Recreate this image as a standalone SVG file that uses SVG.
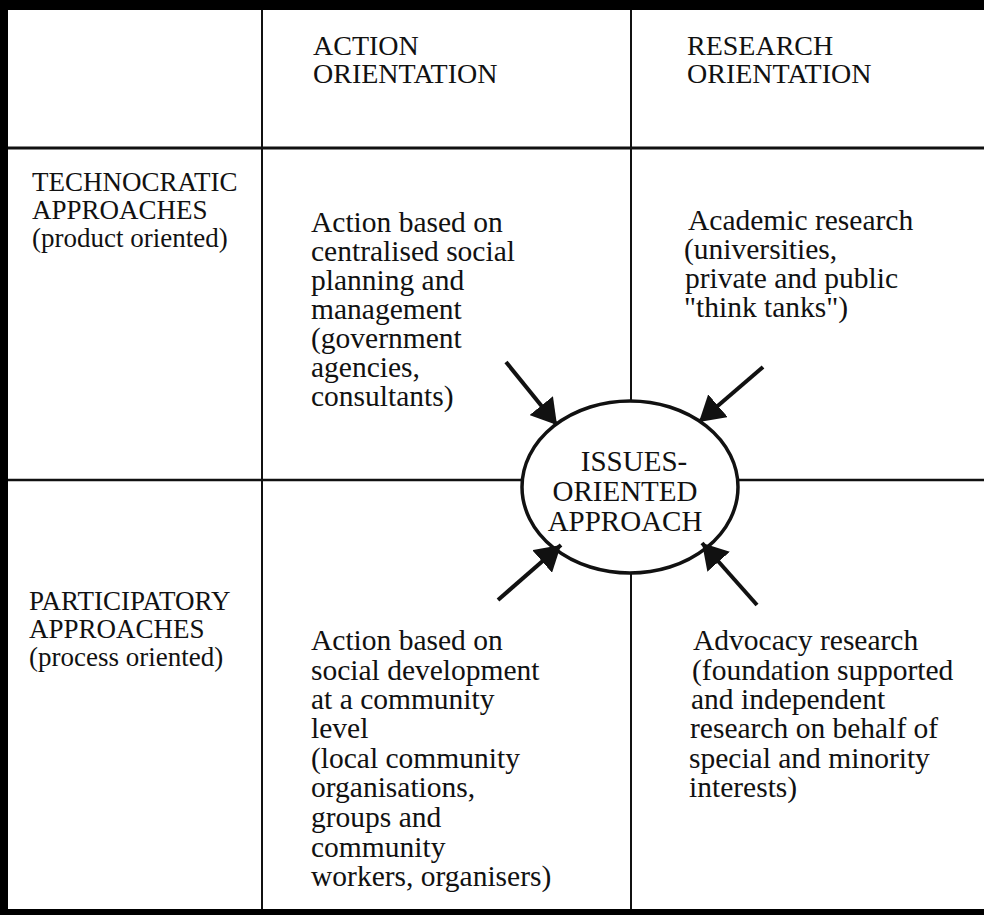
<svg xmlns="http://www.w3.org/2000/svg" width="984" height="915" viewBox="0 0 984 915">
  <defs>
    <style>
      .t { font-family: "Liberation Serif", "Times New Roman", serif; font-size: 29.5px; fill: #111; }
      .hd { font-size: 28px; }
      .rl { font-size: 27px; }
      .ce { font-size: 29px; }
      .grid { stroke: #111; fill: none; }
      .arrow { stroke: #111; stroke-width: 4; fill: none; marker-end: url(#head); }
    </style>
    <marker id="head" markerUnits="userSpaceOnUse" markerWidth="25" markerHeight="30" viewBox="0 0 25 30" refX="25" refY="15" orient="auto">
      <path d="M0,0 L25,15 L0,30 Z" fill="#111"/>
    </marker>
  </defs>

  <rect x="0" y="0" width="984" height="915" fill="#fff"/>

  <!-- frame and table rules -->
  <g id="frame">
    <rect x="0" y="0" width="984" height="10" fill="#000"/>
    <rect x="0" y="0" width="8" height="915" fill="#000"/>
    <rect x="0" y="909" width="984" height="6" fill="#000"/>
    <line class="grid" x1="262" y1="10" x2="262" y2="909" stroke-width="2"/>
    <line class="grid" x1="631" y1="10" x2="631" y2="909" stroke-width="2"/>
    <line class="grid" x1="8" y1="148" x2="984" y2="148" stroke-width="3"/>
    <line class="grid" x1="8" y1="480" x2="984" y2="480" stroke-width="2.5"/>
  </g>

  <!-- column headings -->
  <g id="head-action">
    <text class="t hd" x="313" y="55">ACTION</text>
    <text class="t hd" x="313" y="83">ORIENTATION</text>
  </g>
  <g id="head-research">
    <text class="t hd" x="687" y="55">RESEARCH</text>
    <text class="t hd" x="687" y="83">ORIENTATION</text>
  </g>

  <!-- row headings -->
  <g id="row-technocratic">
    <text class="t rl" x="32" y="191">TECHNOCRATIC</text>
    <text class="t rl" x="32" y="219">APPROACHES</text>
    <text class="t rl" x="32" y="247">(product oriented)</text>
  </g>
  <g id="row-participatory">
    <text class="t rl" x="29" y="610">PARTICIPATORY</text>
    <text class="t rl" x="29" y="638">APPROACHES</text>
    <text class="t rl" x="29" y="666">(process oriented)</text>
  </g>

  <!-- quadrant cells -->
  <g id="cell-technocratic-action">
    <text class="t" x="311" y="232">Action based on</text>
    <text class="t" x="311" y="261">centralised social</text>
    <text class="t" x="311" y="290">planning and</text>
    <text class="t" x="311" y="319">management</text>
    <text class="t" x="311" y="348">(government</text>
    <text class="t" x="311" y="377">agencies,</text>
    <text class="t" x="311" y="406">consultants)</text>
  </g>
  <g id="cell-technocratic-research">
    <text class="t" x="688" y="230">Academic research</text>
    <text class="t" x="684" y="259">(universities,</text>
    <text class="t" x="685" y="288">private and public</text>
    <text class="t" x="684" y="317">"think tanks")</text>
  </g>
  <g id="cell-participatory-action">
    <text class="t" x="311" y="650">Action based on</text>
    <text class="t" x="311" y="680">social development</text>
    <text class="t" x="311" y="709">at a community</text>
    <text class="t" x="311" y="738">level</text>
    <text class="t" x="311" y="768">(local community</text>
    <text class="t" x="311" y="797">organisations,</text>
    <text class="t" x="311" y="827">groups and</text>
    <text class="t" x="311" y="857">community</text>
    <text class="t" x="311" y="886">workers, organisers)</text>
  </g>
  <g id="cell-participatory-research">
    <text class="t" x="693" y="650">Advocacy research</text>
    <text class="t" x="692" y="680">(foundation supported</text>
    <text class="t" x="691" y="709">and independent</text>
    <text class="t" x="690" y="738">research on behalf of</text>
    <text class="t" x="689" y="768">special and minority</text>
    <text class="t" x="689" y="797">interests)</text>
  </g>

  <!-- central ellipse -->
  <g id="issues-oriented">
    <ellipse cx="630" cy="487" rx="108" ry="86" fill="#fff" stroke="#111" stroke-width="3.5"/>
    <text class="t ce" x="634" y="471" text-anchor="middle">ISSUES-</text>
    <text class="t ce" x="625" y="501" text-anchor="middle">ORIENTED</text>
    <text class="t ce" x="625" y="531" text-anchor="middle">APPROACH</text>
  </g>

  <!-- arrows pointing in to the ellipse -->
  <g id="connectors">
    <path class="arrow" d="M506,362 L557,425"/>
    <path class="arrow" d="M763,367 L699,422"/>
    <path class="arrow" d="M498,600 L561,545"/>
    <path class="arrow" d="M757,605 L702,543"/>
  </g>
</svg>
